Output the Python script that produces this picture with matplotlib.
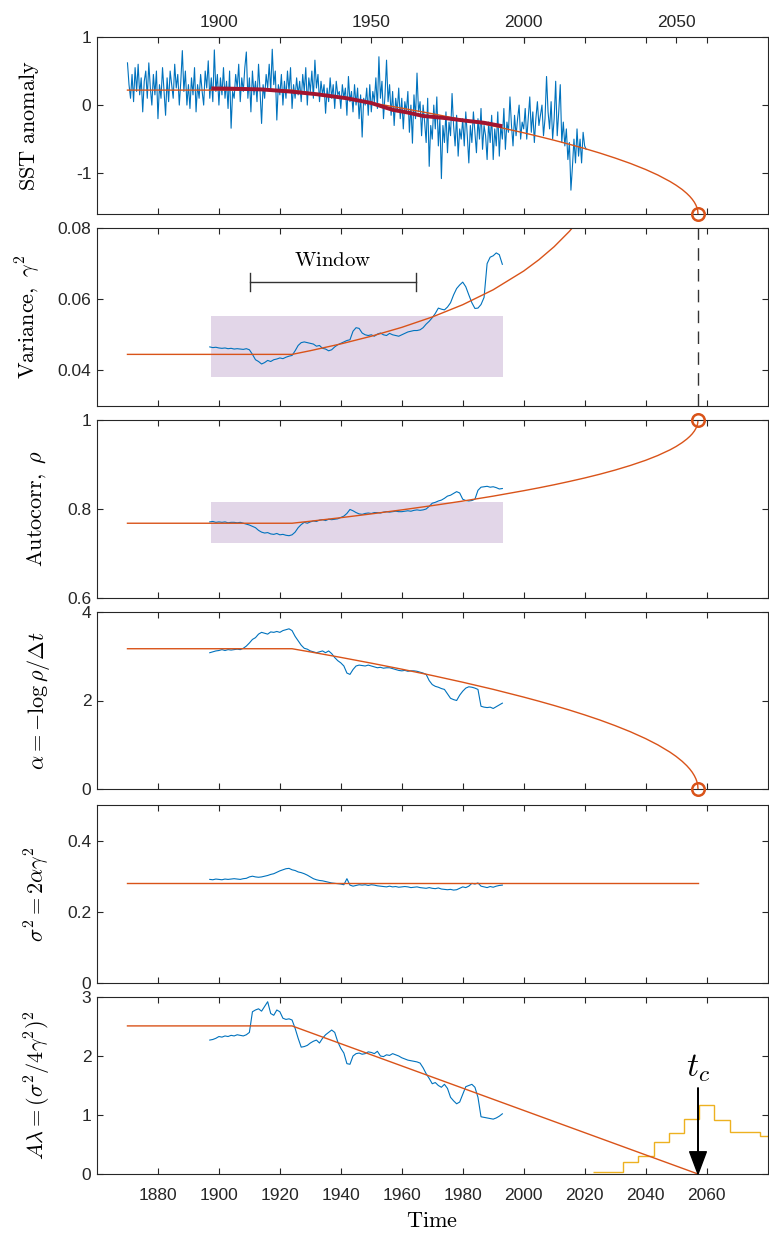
import numpy as np
import matplotlib.pyplot as plt

plt.rcParams['font.family'] = ['Liberation Sans', 'DejaVu Sans']
plt.rcParams['mathtext.fontset'] = 'cm'

BLUE = '#0072BD'
ORANGE = '#D95319'
YELLOW = '#EDB120'
DARKRED = '#A2142F'
AXCOL = '#262626'

# ---- data ----
t_crit = 2057.2

# SST anomaly, two values per year from 1870
sst_start = 1870
sst_step = 0.5
sst_vals = [
    # 1870s
    0.62, 0.3, 0.1, 0.45, 0.05, 0.55, 0.2, 0.6, 0.15, 0.4,
    -0.1, 0.35, 0.5, 0.1, 0.62, 0.25, 0.0, 0.45, 0.15, 0.5,
    # 1880s
    -0.2, 0.3, 0.1, 0.55, 0.2, -0.15, 0.4, 0.05, 0.5, 0.3,
    0.1, 0.6, 0.25, 0.45, 0.0, 0.35, 0.8, 0.2, 0.5, 0.0,
    # 1890s
    0.3, -0.05, 0.4, 0.15, 0.55, -0.1, 0.3, 0.1, 0.45, 0.2,
    0.0, 0.5, 0.25, 0.65, 0.1, 0.4, 0.05, 0.81, 0.2, 0.45,
    # 1900s
    0.0, 0.4, 0.15, 0.55, 0.1, 0.35, -0.05, 0.5, -0.34, 0.2,
    0.1, 0.45, 0.25, 0.6, 0.05, 0.4, 0.2, 0.55, 0.78, 0.1,
    # 1910s
    0.4, -0.1, 0.5, 0.15, 0.35, 0.05, 0.6, 0.2, -0.27, 0.3,
    0.1, 0.45, 0.25, 0.6, 0.2, 0.82, 0.3, 0.5, -0.22, 0.3,
    # 1920s
    0.15, 0.45, 0.0, 0.35, 0.1, 0.5, 0.2, 0.55, -0.05, 0.3,
    0.1, 0.4, 0.15, 0.35, 0.05, 0.45, 0.2, 0.55, 0.0, 0.4,
    # 1930s
    0.2, 0.5, 0.1, 0.66, 0.25, 0.45, 0.05, 0.35, 0.15, 0.3,
    -0.12, 0.25, 0.05, 0.4, 0.1, 0.3, -0.05, 0.35, 0.15, 0.2,
    # 1940s
    -0.05, 0.3, 0.1, 0.25, -0.15, 0.42, 0.05, 0.2, -0.1, 0.3,
    0.0, 0.25, -0.2, 0.15, -0.47, 0.1, 0.0, 0.25, -0.15, 0.3,
    # 1950s
    -0.1, 0.2, 0.05, 0.4, -0.05, 0.71, 0.1, 0.35, -0.2, 0.15,
    0.66, 0.05, 0.3, -0.15, 0.2, -0.3, 0.1, -0.1, 0.25, -0.2,
    # 1960s
    0.1, -0.35, 0.05, -0.1, 0.2, -0.4, 0.0, -0.56, 0.15, -0.2,
    0.47, -0.1, 0.05, -0.45, 0.0, -0.25, -0.55, 0.1, -0.9, -0.3,
    # 1970s
    -0.5, 0.0, -0.35, 0.12, -0.6, -0.2, -1.08, -0.3, -0.55, -0.1,
    -0.7, -0.25, -0.45, 0.17, -0.3, -0.6, -0.15, -0.75, -0.35, -0.5,
    # 1980s
    -0.2, -0.6, -0.1, -0.45, -0.85, -0.3, -0.55, -0.1, -0.4, -0.7,
    -0.2, -0.5, -0.05, -0.65, -0.3, -0.45, -0.8, -0.25, -0.55, -0.15,
    # 1990s
    -0.8, -0.35, -0.6, -0.1, -0.75, -0.3, -0.5, -0.05, -0.65, -0.25,
    -0.4, 0.12, -0.3, -0.6, -0.15, -0.45, -0.2, 0.0, -0.5, -0.25,
    # 2000s
    -0.35, -0.05, -0.5, -0.2, 0.12, -0.4, -0.1, -0.55, -0.2, 0.05,
    -0.3, -0.15, 0.0, -0.45, -0.2, 0.42, -0.1, -0.35, 0.05, -0.5,
    # 2010s
    -0.2, 0.35, -0.45, -0.1, 0.3, -0.55, -0.25, -0.6, -0.35, -0.8,
    -0.55, -1.25, -0.9, -0.5, -0.85, -0.35, -0.75, -0.5, -0.85, -0.4,
    # 2020
    -0.6, -0.65,
]

# running mean of SST (thick dark red)
mean_years = [1897.5, 1905, 1914, 1923, 1932, 1942, 1950, 1957, 1962, 1967, 1974, 1981, 1987, 1993]
mean_vals = [0.245, 0.24, 0.23, 0.20, 0.16, 0.10, 0.03, -0.07, -0.11, -0.16, -0.19, -0.23, -0.26, -0.31]

# fitted model curves
fit_years = [1870, 1924, 1930, 1940, 1950, 1960, 1970, 1980, 1990, 2000, 2005, 2010, 2015,
             2020, 2025, 2030, 2035, 2040, 2044, 2048, 2050, 2052, 2053.5, 2054.5, 2055.3,
             2056, 2056.5, 2056.8, 2057.0, 2057.1, 2057.2]
fit_sst = [0.22, 0.22, 0.179, 0.107, 0.033, -0.045, -0.127, -0.214, -0.307, -0.407, -0.461,
           -0.517, -0.576, -0.638, -0.705, -0.778, -0.857, -0.946, -1.027, -1.122, -1.177,
           -1.240, -1.297, -1.341, -1.383, -1.427, -1.468, -1.500, -1.529, -1.550, -1.600]
fit_rho = [0.768, 0.768, 0.7725, 0.7805, 0.7890, 0.7980, 0.8076, 0.8178, 0.8289, 0.8411,
           0.8476, 0.8545, 0.8619, 0.8697, 0.8782, 0.8875, 0.8978, 0.9094, 0.9202, 0.9329,
           0.9404, 0.9492, 0.9570, 0.9631, 0.9689, 0.9752, 0.9810, 0.9856, 0.9898, 0.9928, 1.0]
fit_alpha = [3.17, 3.17, 3.098, 2.974, 2.844, 2.708, 2.565, 2.413, 2.252, 2.077, 1.984,
             1.887, 1.784, 1.675, 1.559, 1.432, 1.294, 1.139, 0.998, 0.833, 0.737, 0.626,
             0.528, 0.451, 0.379, 0.301, 0.230, 0.174, 0.123, 0.087, 0.0]
var_years = [1870, 1924, 1930, 1940, 1950, 1960, 1970, 1980, 1990, 2000, 2005, 2010, 2015, 2020]
fit_var = [0.0445, 0.0445, 0.04554, 0.04744, 0.04960, 0.05209, 0.05500, 0.05845, 0.06265,
           0.06791, 0.07109, 0.07475, 0.07906, 0.08421]
fit_sig_years = [1870, 2057.2]
fit_sig = [0.282, 0.282]
fit_al_years = [1870, 1924, 2057.2]
fit_al = [2.51, 2.51, 0.0]

# rolling-window estimates (one value per year)
roll_start = 1897
roll_var = [
    0.0466, 0.0464, 0.0465, 0.0463, 0.0462, 0.0463, 0.0461, 0.0462, 0.0460, 0.0461,
    0.0460, 0.0459, 0.0461, 0.0458, 0.0445, 0.0430, 0.0425, 0.0418, 0.0422, 0.0428,
    0.0425, 0.0430, 0.0432, 0.0435, 0.0433, 0.0437, 0.0440, 0.0442, 0.0455, 0.0470,
    0.0478, 0.0480, 0.0478, 0.0476, 0.0474, 0.0468, 0.0470, 0.0462, 0.0460, 0.0455,
    0.0458, 0.0466, 0.0472, 0.0476, 0.0480, 0.0484, 0.0486, 0.0510, 0.0520, 0.0518,
    0.0505, 0.0500, 0.0498, 0.0500, 0.0496, 0.0502, 0.0505, 0.0500, 0.0498, 0.0504,
    0.0500, 0.0498, 0.0496, 0.0500, 0.0504, 0.0508, 0.0510, 0.0512, 0.0512, 0.0514,
    0.0520, 0.0530, 0.0538, 0.0548, 0.0560, 0.0575, 0.0572, 0.0570, 0.0578, 0.0590,
    0.0612, 0.0630, 0.0640, 0.0648, 0.0635, 0.0612, 0.0590, 0.0574, 0.0575, 0.0585,
    0.0605, 0.0700, 0.0718, 0.0722, 0.0730, 0.0725, 0.0698,
]
roll_rho = [
    0.771, 0.772, 0.770, 0.771, 0.770, 0.771, 0.769, 0.770, 0.770, 0.769,
    0.770, 0.768, 0.766, 0.764, 0.761, 0.758, 0.752, 0.748, 0.746, 0.747,
    0.744, 0.743, 0.745, 0.742, 0.743, 0.741, 0.740, 0.742, 0.748, 0.758,
    0.765, 0.770, 0.768, 0.771, 0.773, 0.772, 0.775, 0.776, 0.774, 0.777,
    0.776, 0.777, 0.778, 0.781, 0.784, 0.790, 0.799, 0.796, 0.792, 0.789,
    0.788, 0.790, 0.791, 0.790, 0.792, 0.792, 0.791, 0.793, 0.794, 0.793,
    0.794, 0.795, 0.794, 0.794, 0.795, 0.796, 0.795, 0.797, 0.798, 0.797,
    0.798, 0.800, 0.806, 0.813, 0.815, 0.818, 0.820, 0.824, 0.829, 0.831,
    0.835, 0.839, 0.836, 0.822, 0.819, 0.818, 0.819, 0.822, 0.842, 0.849,
    0.850, 0.851, 0.849, 0.850, 0.848, 0.845, 0.846,
]
roll_alpha = [
    3.08, 3.10, 3.12, 3.13, 3.15, 3.13, 3.15, 3.14, 3.15, 3.16,
    3.15, 3.18, 3.23, 3.30, 3.38, 3.42, 3.50, 3.54, 3.52, 3.50,
    3.55, 3.54, 3.56, 3.54, 3.58, 3.60, 3.62, 3.58, 3.45, 3.35,
    3.25, 3.18, 3.16, 3.12, 3.10, 3.08, 3.10, 3.12, 3.08, 3.12,
    3.06, 2.97, 2.90, 2.85, 2.78, 2.62, 2.59, 2.70, 2.78, 2.80,
    2.79, 2.78, 2.80, 2.78, 2.76, 2.74, 2.75, 2.73, 2.74, 2.74,
    2.72, 2.70, 2.68, 2.67, 2.68, 2.66, 2.67, 2.67, 2.66, 2.64,
    2.62, 2.59, 2.45, 2.36, 2.32, 2.30, 2.27, 2.25, 2.15, 2.05,
    2.02, 2.00, 2.12, 2.21, 2.28, 2.31, 2.30, 2.28, 2.25, 1.87,
    1.85, 1.84, 1.85, 1.82, 1.86, 1.90, 1.94,
]
roll_sig = [
    0.291, 0.290, 0.292, 0.291, 0.290, 0.292, 0.291, 0.292, 0.293, 0.292,
    0.291, 0.293, 0.294, 0.298, 0.300, 0.298, 0.297, 0.298, 0.300, 0.302,
    0.305, 0.307, 0.311, 0.315, 0.318, 0.321, 0.322, 0.318, 0.316, 0.312,
    0.310, 0.307, 0.303, 0.298, 0.293, 0.290, 0.288, 0.287, 0.285, 0.283,
    0.281, 0.280, 0.279, 0.278, 0.276, 0.293, 0.275, 0.272, 0.274, 0.276,
    0.275, 0.276, 0.274, 0.276, 0.275, 0.273, 0.272, 0.271, 0.270, 0.272,
    0.270, 0.271, 0.269, 0.270, 0.271, 0.270, 0.268, 0.269, 0.270, 0.268,
    0.267, 0.266, 0.268, 0.266, 0.265, 0.267, 0.264, 0.263, 0.262, 0.263,
    0.261, 0.262, 0.266, 0.270, 0.268, 0.272, 0.280, 0.278, 0.281, 0.272,
    0.270, 0.268, 0.271, 0.269, 0.272, 0.274, 0.275,
]
roll_al = [
    2.27, 2.28, 2.30, 2.33, 2.32, 2.34, 2.33, 2.35, 2.34, 2.36,
    2.35, 2.34, 2.36, 2.40, 2.75, 2.78, 2.80, 2.76, 2.84, 2.92,
    2.72, 2.69, 2.78, 2.75, 2.64, 2.62, 2.63, 2.61, 2.47, 2.30,
    2.15, 2.16, 2.18, 2.22, 2.25, 2.27, 2.22, 2.30, 2.36, 2.40,
    2.44, 2.40, 2.24, 2.13, 2.05, 1.87, 1.86, 2.00, 2.04, 2.05,
    2.03, 2.04, 2.07, 2.06, 2.04, 2.08, 2.00, 1.99, 2.02, 2.01,
    2.04, 2.02, 2.00, 1.97, 1.95, 1.93, 1.92, 1.91, 1.90, 1.88,
    1.80, 1.70, 1.62, 1.53, 1.55, 1.50, 1.47, 1.52, 1.45, 1.30,
    1.24, 1.19, 1.22, 1.35, 1.48, 1.50, 1.52, 1.47, 1.30, 0.97,
    0.96, 0.95, 0.94, 0.93, 0.95, 0.98, 1.02,
]

# histogram of predicted tipping times
hist_edges = [2022.6, 2027.6, 2032.6, 2037.6, 2042.6, 2047.6, 2052.6, 2057.6,
              2062.6, 2067.6, 2072.6, 2077.6, 2082.6]
hist_vals = [0.04, 0.04, 0.2, 0.31, 0.55, 0.69, 0.93, 1.17, 0.915, 0.71, 0.71, 0.645]

# shaded boxes and window bracket
box_x = [1897.3, 1993.3]
box_var = [0.0381, 0.0553]
box_rho = [0.724, 0.8165]
window_x = [1910.1, 1964.6]
window_y = 0.0649

# ---- figure ----
W, H = 769, 1239
fig = plt.figure(figsize=(W / 100, H / 100), dpi=100)

rows = [(37, 214), (228, 406), (420, 598), (612, 789), (805, 983), (997, 1174)]
left_px, right_px = 97, 767.5
axes = []
for top, bot in rows:
    ax = fig.add_axes([left_px / W, 1 - bot / H, (right_px - left_px) / W, (bot - top) / H])
    axes.append(ax)

xticks = np.arange(1880, 2061, 20)
for ax in axes:
    ax.set_xlim(1860, 2080)
    ax.set_xticks(xticks)
    ax.tick_params(direction='in', top=True, right=True, length=4.5, width=0.8,
                   colors=AXCOL, labelsize=12.5, pad=4)
    for s in ax.spines.values():
        s.set_color(AXCOL)
        s.set_linewidth(0.8)
    if ax is not axes[-1]:
        ax.set_xticklabels([])

ax1, ax2, ax3, ax4, ax5, ax6 = axes

roll_years = roll_start + np.arange(len(roll_var))
sst_years = sst_start + sst_step * np.arange(len(sst_vals))
LABEL_FS = 16

# panel 1: SST
ax1.plot(sst_years, sst_vals, color=BLUE, lw=0.8)
ax1.plot(fit_years, fit_sst, color=ORANGE, lw=1.0)
ax1.plot(mean_years, mean_vals, color=DARKRED, lw=2.8, solid_capstyle='butt')
ax1.plot([t_crit], [fit_sst[-1]], 'o', mfc='none', mec=ORANGE, ms=9, mew=1.8, clip_on=False, zorder=5)
ax1.set_ylim(-1.6, 1)
ax1.set_yticks([-1, 0, 1])
ax1.set_yticklabels(['-1', '0', '1'])
ax1.set_ylabel(r'$\mathrm{SST\ anomaly}$', fontsize=LABEL_FS)
top = ax1.secondary_xaxis('top')
top.set_xticks([1900, 1950, 2000, 2050])
top.tick_params(direction='in', length=4.5, width=0.8, colors=AXCOL, labelsize=12.5, pad=5)
top.spines['top'].set_visible(False)

# panel 2: variance
ax2.fill_between(box_x, box_var[0], box_var[1], color='#E2D6E8', lw=0)
ax2.plot(roll_years, roll_var, color=BLUE, lw=0.8)
ax2.plot(var_years, fit_var, color=ORANGE, lw=1.0)
ax2.plot([t_crit, t_crit], [0.03, 0.08], color='#333333', lw=1.0, dashes=(9, 6))
ax2.plot(window_x, [window_y, window_y], color='#333333', lw=1.0)
for wx in window_x:
    ax2.plot([wx, wx], [window_y - 0.0025, window_y + 0.0025], color='#333333', lw=1.0)
ax2.text(np.mean(window_x), window_y + 0.0033, r'$\mathrm{Window}$', ha='center', va='bottom', fontsize=15)
ax2.set_ylim(0.03, 0.08)
ax2.set_yticks([0.04, 0.06, 0.08])
ax2.set_yticklabels(['0.04', '0.06', '0.08'])
ax2.set_ylabel(r'$\mathrm{Variance},\ \gamma^2$', fontsize=LABEL_FS)

# panel 3: autocorrelation
ax3.fill_between(box_x, box_rho[0], box_rho[1], color='#E2D6E8', lw=0)
ax3.plot(roll_years, roll_rho, color=BLUE, lw=0.8)
ax3.plot(fit_years, fit_rho, color=ORANGE, lw=1.0)
ax3.plot([t_crit], [1.0], 'o', mfc='none', mec=ORANGE, ms=9, mew=1.8, clip_on=False, zorder=5)
ax3.set_ylim(0.6, 1)
ax3.set_yticks([0.6, 0.8, 1])
ax3.set_yticklabels(['0.6', '0.8', '1'])
ax3.set_ylabel(r'$\mathrm{Autocorr},\ \rho$', fontsize=LABEL_FS)

# panel 4: alpha
ax4.plot(roll_years, roll_alpha, color=BLUE, lw=0.8)
ax4.plot(fit_years, fit_alpha, color=ORANGE, lw=1.0)
ax4.plot([t_crit], [0.0], 'o', mfc='none', mec=ORANGE, ms=9, mew=1.8, clip_on=False, zorder=5)
ax4.set_ylim(0, 4)
ax4.set_yticks([0, 2, 4])
ax4.set_ylabel(r'$\alpha = -\log\rho/\Delta t$', fontsize=LABEL_FS)

# panel 5: sigma^2
ax5.plot(roll_years, roll_sig, color=BLUE, lw=0.8)
ax5.plot(fit_sig_years, fit_sig, color=ORANGE, lw=1.0)
ax5.set_ylim(0, 0.5)
ax5.set_yticks([0, 0.2, 0.4])
ax5.set_yticklabels(['0', '0.2', '0.4'])
ax5.set_ylabel(r'$\sigma^2 = 2\alpha\gamma^2$', fontsize=LABEL_FS)

# panel 6: A lambda
ax6.stairs(hist_vals, hist_edges, color=YELLOW, lw=1.0, baseline=None)
ax6.plot(roll_years, roll_al, color=BLUE, lw=0.8)
ax6.plot(fit_al_years, fit_al, color=ORANGE, lw=1.0)
ax6.annotate('', xy=(t_crit, 0), xytext=(t_crit, 1.46),
             arrowprops=dict(facecolor='k', edgecolor='k', width=0.3, headwidth=12, headlength=16, shrink=0))
ax6.text(t_crit, 1.52, r'$t_c$', ha='center', va='bottom', fontsize=24)
ax6.set_ylim(0, 3)
ax6.set_yticks([0, 1, 2, 3])
ax6.set_ylabel(r'$A\lambda = (\sigma^2/4\gamma^2)^2$', fontsize=LABEL_FS)
ax6.set_xlabel(r'$\mathrm{Time}$', fontsize=LABEL_FS, labelpad=6)
ax6.tick_params(axis='x', pad=10)

for ax, xl in zip(axes, [-0.083, -0.081, -0.073, -0.067, -0.067, -0.065]):
    ax.yaxis.set_label_coords(xl, 0.5)

fig.savefig('out.png', dpi=100)
